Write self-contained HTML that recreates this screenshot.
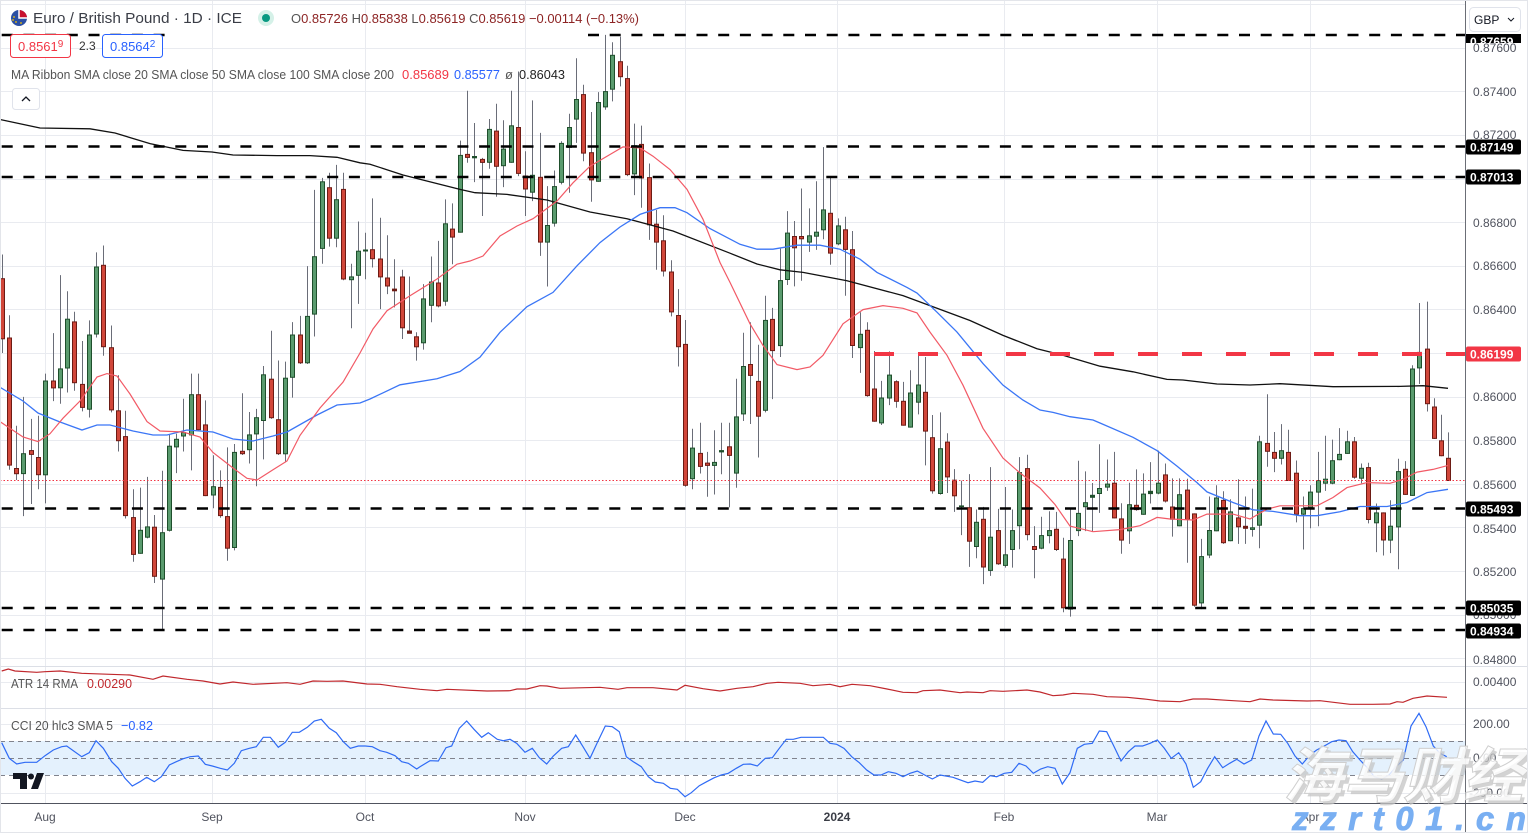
<!DOCTYPE html>
<html><head><meta charset="utf-8">
<style>
html,body{margin:0;padding:0;background:#fff;}
svg{display:block;}
</style></head>
<body>
<svg xmlns="http://www.w3.org/2000/svg" width="1528" height="833" viewBox="0 0 1528 833" font-family="'Liberation Sans', sans-serif">
<defs>
  <clipPath id="mp"><rect x="0" y="0" width="1465" height="666"/></clipPath>
  <clipPath id="tb"><rect x="1466" y="34" width="55" height="9"/></clipPath>
</defs>
<rect width="1528" height="833" fill="#fff"/>

<!-- grid -->
<g stroke="#e9ebf0" stroke-width="1">
  <path d="M0 4.5H1465M0 48.5H1465M0 91.5H1465M0 135.5H1465M0 179.5H1465M0 222.5H1465M0 266.5H1465M0 309.5H1465M0 353.5H1465M0 397.5H1465M0 440.5H1465M0 484.5H1465M0 527.5H1465M0 571.5H1465M0 615.5H1465M0 658.5H1465"/>
  <path d="M0 682.5H1465M0 724.5H1465M0 793.5H1465"/>
  <path d="M45.5 0V803M212.5 0V803M365.5 0V803M525.5 0V803M685.5 0V803M837.5 0V803M1004.5 0V803M1157.5 0V803M1310.5 0V803"/>
</g>
<g stroke="#dcdfe6" stroke-width="1">
  <path d="M0 666.5H1528M0 708.5H1528"/>
</g>

<!-- CCI band -->
<rect x="0" y="741" width="1465" height="34" fill="#e4f1fd"/>
<g stroke="#80838d" stroke-width="1" stroke-dasharray="5 4">
  <path d="M0 741.5H1465M0 758.5H1465M0 775.5H1465"/>
</g>

<g clip-path="url(#mp)">
  <g id="cd"></g>
  <!-- MAs -->
  <polyline fill="none" stroke="#111" stroke-width="1.3" points="0,119.5 40,128 90,128.8 115,133 150,143.6 183,150.4 212,152 233,155 277,155.6 310,155.6 337,157.3 360,162.8 370,164.2 403,175 460,189.4 475,192.7 507,194.4 547,200 590,212 627,218.7 673,231 730,253.2 757,264 780,269.8 803,272.4 847,280.7 903,295.6 970,320.5 1003,335.4 1037,348.7 1063,355.3 1100,366.2 1133,371.8 1167,379.4 1183,380 1217,384 1250,385 1280,383.7 1333,386.7 1400,386.4 1423,385.7 1448,388.3"/>
  <polyline fill="none" stroke="#3b76f6" stroke-width="1.3" points="0,387.3 23,401 38,413 60,422 82,430 97,425 110,425 133,431 153,435 167,435 187,430 213,432 233,439 253,441 273,436 287,432 317,415 337,405 360,403 370,399 400,384.8 437,378.8 460,371.5 480,357.2 500,332.3 527,306.7 553,292.4 577,265.8 600,242.6 620,227 640,214.4 660,207.7 675,207.7 687,212.7 710,228.6 740,244.3 757,249.2 773,249.2 797,245.2 820,245.2 840,249.2 860,259.2 877,272.4 907,287.4 917,293 937,312.2 957,332.1 983,363.6 1003,385.2 1023,400.1 1040,410 1053,412.4 1070,416.7 1093,420 1100,423 1133,437.3 1157,450.6 1177,466.1 1197,482.6 1207,491.9 1233,502.5 1253,509.8 1273,511.4 1300,515.7 1317,515.7 1340,511.8 1360,506.5 1387,506.5 1407,502.5 1427,492.6 1448,489.3"/>
  <polyline fill="none" stroke="#f25a66" stroke-width="1.2" points="0,421.6 23,437 38,441.6 50,433.7 63,418.2 80,401 97,377 107,373.6 117,376 130,394 147,421.6 160,431 183,432 200,437 213,452.5 233,468 247,478.3 257,480 273,469.7 287,461 300,435.4 320,408 343,382.2 360,353 373,329 387,310.7 410,295.8 437,279 457,264.2 470,261 483,256 500,236 517,226 533,218.7 557,201 573,182.8 590,166.2 610,154.5 623,146.9 640,147.9 653,156.2 670,169.5 687,189.4 703,219.3 720,262.5 730,282.4 750,323.8 763,345.4 777,364.6 797,369.6 810,367 823,355.3 843,323.8 863,309.6 883,305.6 903,308.3 917,312.9 930,332.1 947,355.3 963,385.2 983,428.3 1003,458.1 1020,473 1040,488 1055,504.5 1070,526.1 1093,531.7 1120,529.6 1140,525.7 1157,517.4 1170,519 1193,520 1207,514.1 1233,514.1 1250,519 1267,509.1 1280,505.8 1317,505.8 1333,497.5 1347,487.6 1367,482.6 1390,483.3 1403,479.3 1417,472.1 1433,469.4 1448,465.4"/>
  <!-- horizontal levels -->
  <g stroke="#000" stroke-width="2.6" stroke-dasharray="11 10.7">
    <path d="M1.7 35H166"/>
    <path d="M588 35H1465"/>
    <path d="M1.7 146.5H1465M1.7 177H1465M1.7 508.5H1465M1.7 608H1465M1.7 630H1465"/>
  </g>
  <path d="M874 354H1465" stroke="#f23645" stroke-width="4" stroke-dasharray="20 24"/>
  <path d="M0 480.5H1465" stroke="#f23645" stroke-width="1" stroke-dasharray="1.5 2"/>
</g>

<!-- ATR -->
<polyline fill="none" stroke="#c0282d" stroke-width="1.2" points="1.7,671 8.3,669 15,671 36.7,672.3 45,671.7 60,671 81.7,673.3 110,674.3 130,675 153,679.3 163,676 187,679.3 203,681 220,684 233,682 253,684.3 287,682.7 300,684.3 313,681 327,681.3 343,681 367,684 380,684.3 397,686.7 420,689.3 437,690.7 447,689.3 487,691 510,690.7 517,689 527,689 540,685.7 547,686 560,688.3 600,687.3 618,689.3 627,687.7 653,687.7 677,690 685,685.3 703,688.7 720,691 737,688.3 753,686.7 767,683.3 778,682.3 800,683.3 813,685.7 830,684.3 840,686.7 852,684.3 870,685.7 887,689 903,692.3 917,692.7 923,690.7 940,690 960,692.7 967,692 983,692.7 990,690.7 1003,691.3 1027,690 1040,692 1053,695.7 1063,695 1073,693.3 1093,694.3 1107,696.7 1127,697.3 1147,699.3 1160,701 1180,701.7 1193,699 1207,699 1227,700.3 1250,701.7 1260,699 1273,700 1307,701 1320,700.7 1350,704.3 1373,704.3 1390,704 1397,701.7 1403,702.3 1413,698.3 1427,696 1447,697.3"/>

<!-- CCI -->
<polyline fill="none" stroke="#2f6bf5" stroke-width="1.2" points="1.7,742.7 9.3,758.3 16.7,764 25,762.3 36.7,762.3 45,755.7 53.3,750 61.7,746.7 66.7,746 81.7,756.7 89.3,752.7 96,740.7 103.3,748.3 111.7,761.7 118.3,768.3 125,778.3 132.3,786 140,781.7 146.7,777.3 154.3,781.7 161.3,776.7 169.3,765 176.3,761.7 183.3,758.7 190.3,756.7 198.3,756 205.3,764.3 212.3,766 220.3,768.3 227.3,770 234.3,763.3 241.3,750.7 249.3,748.3 256.3,746.7 263.3,737.3 270.3,737.3 278.3,747.3 285.3,742.3 292.3,732.3 299.3,732.3 307.3,727.3 314.3,721 321.3,719.3 329.3,728.3 336.3,732.7 343.3,741.7 350.3,748.3 358.3,746 365.3,746 372.3,746.7 380,750.7 386.7,752.3 395,755.7 401.7,761.7 408.3,763.3 416.7,769 420,766.7 430,760.7 438.3,761 446,747.7 451.7,746 459.3,728.3 466.7,721 474,729.3 481.7,737.3 488.3,732.7 497.3,739.3 503.3,740.7 510,739.3 516.7,743.3 525,752.3 532.3,748.3 539.3,757.7 546.7,764 553.3,756 561.7,748.3 568.3,746.7 575.7,735 583,746.7 590,758.3 597.7,741.7 605.3,726 612.3,726.7 619.3,731.7 626.3,756.7 633.3,761.7 641.3,766.7 648.3,776.7 655.3,782 663.3,783.3 670.3,788.3 677.3,789.3 685,796.7 691.3,792.7 699.3,785.7 706.7,781.7 714.3,777.7 721.3,775 728.3,773.3 736.3,768.3 743.3,764.3 750.3,764 757.3,766 765.3,758.3 772.3,757.7 779.3,748.3 786.3,739.3 793.3,739.3 801,737.3 808.3,737.3 815.7,737.3 823.3,737.3 830,743.3 836.7,744.3 844,748.3 851.7,756.7 859.3,762.7 866.7,770 874,775 881,775 888.3,771.7 896,773.3 903,776.7 910,773.3 917.3,771 924.7,775 932.3,779 940,775 953,777.3 968,782.7 975,781 982.7,782.3 990,775.7 996.7,776.7 1004.3,773.3 1011.7,772.3 1019,763.3 1026,766 1033.3,773.3 1040.7,769 1047.7,766.7 1055,768.3 1062.3,784 1070,772.7 1077.3,748.3 1084.3,744.3 1092.3,743.3 1099.3,731 1106.7,731.7 1113.3,745 1121,761 1128.3,751.7 1135,746 1142.7,746 1150,743.3 1157.3,740 1164.3,748.3 1171.3,758.3 1178.7,752.7 1186,764 1193.3,787.3 1200.7,781.7 1207.7,768.3 1214.7,756.7 1222.7,767.7 1229.7,763.3 1236.7,759.3 1244,764 1251.7,760 1259,736 1266,721 1273.3,734 1280.7,734.3 1287.7,743.3 1295,756 1302.3,764 1310,755 1316.7,750 1324.3,746 1331.7,741.7 1339,740 1346,740.7 1352.7,751.7 1360,760 1367.3,767.7 1374.3,776.7 1381.7,779.3 1389,775 1396,766.7 1403.3,760 1411,726 1419,713.3 1426,726.7 1433.3,746 1440,753.3 1446.7,756.7"/>

<!-- axes -->
<rect x="1466" y="0" width="62" height="833" fill="#fff"/>
<path d="M1465.5 0V833" stroke="#6b6e76" stroke-width="1"/>
<path d="M0 803.5H1528" stroke="#50535e" stroke-width="1"/>
<path d="M1466 666.5H1528M1466 708.5H1528" stroke="#dcdfe6"/>

<g font-size="12" fill="#50535e">
  <text x="1473" y="52">0.87600</text>
  <text x="1473" y="96">0.87400</text>
  <text x="1473" y="139">0.87200</text>
  <text x="1473" y="227">0.86800</text>
  <text x="1473" y="270">0.86600</text>
  <text x="1473" y="314">0.86400</text>
  <text x="1473" y="401">0.86000</text>
  <text x="1473" y="445">0.85800</text>
  <text x="1473" y="489">0.85600</text>
  <text x="1473" y="533">0.85400</text>
  <text x="1473" y="576">0.85200</text>
  <text x="1473" y="619">0.85000</text>
  <text x="1473" y="664">0.84800</text>
  <text x="1473" y="686">0.00400</text>
  <text x="1473" y="728">200.00</text>
  <text x="1473" y="762">0.00</text>
  <text x="1469" y="797">-200.00</text>
</g>

<!-- badges -->
<g font-size="12" font-weight="bold" fill="#fff">
  <rect x="1466" y="34" width="55" height="9" fill="#000"/>
  <text x="1470" y="46" clip-path="url(#tb)">0.87659</text>
  <rect x="1466" y="139.5" width="55" height="15" rx="2" fill="#000"/>
  <text x="1470" y="151.5">0.87149</text>
  <rect x="1466" y="169.5" width="55" height="15" rx="2" fill="#000"/>
  <text x="1470" y="181.5">0.87013</text>
  <rect x="1466" y="346.5" width="55" height="15" rx="2" fill="#f23645"/>
  <text x="1470" y="358.5">0.86199</text>
  <rect x="1466" y="501.5" width="55" height="15" rx="2" fill="#000"/>
  <text x="1470" y="513.5">0.85493</text>
  <rect x="1466" y="600.5" width="55" height="15" rx="2" fill="#000"/>
  <text x="1470" y="612.5">0.85035</text>
  <rect x="1466" y="623.5" width="55" height="15" rx="2" fill="#000"/>
  <text x="1470" y="635.5">0.84934</text>
</g>

<!-- GBP button -->
<rect x="1469.5" y="7.5" width="51" height="24" rx="4" fill="#fff" stroke="#e0e3eb"/>
<text x="1474" y="24" font-size="12" fill="#131722">GBP</text>
<path d="M1508 18l3 3 3-3" fill="none" stroke="#131722" stroke-width="1"/>

<!-- time labels -->
<g font-size="12" fill="#50535e" text-anchor="middle">
  <text x="45" y="821">Aug</text>
  <text x="212" y="821">Sep</text>
  <text x="365" y="821">Oct</text>
  <text x="525" y="821">Nov</text>
  <text x="685" y="821">Dec</text>
  <text x="837" y="821" font-weight="bold" fill="#3a3d46">2024</text>
  <text x="1004" y="821">Feb</text>
  <text x="1157" y="821">Mar</text>
  <text x="1310" y="821">Apr</text>
</g>

<!-- header legend -->
<circle cx="19" cy="18" r="8" fill="#2b4fa3"/>
<path d="M19 10a8 8 0 0 1 8 8h-8z" fill="#c8102e"/>
<path d="M19 10v8h8" fill="none" stroke="#fff" stroke-width="1.5"/>
<g fill="#f5c400"><circle cx="14" cy="17" r="0.9"/><circle cx="16" cy="22" r="0.9"/><circle cx="21" cy="23" r="0.9"/><circle cx="13" cy="20" r="0.9"/></g>
<text x="33" y="23" font-size="15" fill="#3a3d46" textLength="209" lengthAdjust="spacingAndGlyphs">Euro / British Pound · 1D · ICE</text>
<circle cx="266" cy="18" r="8" fill="#d5f1e8"/>
<circle cx="266" cy="18" r="4" fill="#089981"/>
<text x="291" y="23" font-size="13" textLength="348" lengthAdjust="spacingAndGlyphs"><tspan fill="#555">O</tspan><tspan fill="#8d2424">0.85726 </tspan><tspan fill="#555">H</tspan><tspan fill="#8d2424">0.85838 </tspan><tspan fill="#555">L</tspan><tspan fill="#8d2424">0.85619 </tspan><tspan fill="#555">C</tspan><tspan fill="#8d2424">0.85619 −0.00114 (−0.13%)</tspan></text>

<rect x="10.5" y="34.5" width="60" height="23" rx="3" fill="#fff" stroke="#f23645"/>
<text x="18" y="51" font-size="13" fill="#f23645">0.8561<tspan font-size="10" dy="-4">9</tspan></text>
<text x="79" y="50" font-size="12" fill="#333">2.3</text>
<rect x="102.5" y="34.5" width="60" height="23" rx="3" fill="#fff" stroke="#2962ff"/>
<text x="110" y="51" font-size="13" fill="#2962ff">0.8564<tspan font-size="10" dy="-4">2</tspan></text>

<text x="11" y="79" font-size="13" fill="#555" textLength="383" lengthAdjust="spacingAndGlyphs">MA Ribbon SMA close 20 SMA close 50 SMA close 100 SMA close 200</text>
<text x="402" y="79" font-size="13" fill="#f23645" textLength="47" lengthAdjust="spacingAndGlyphs">0.85689</text>
<text x="454" y="79" font-size="13" fill="#2962ff" textLength="46" lengthAdjust="spacingAndGlyphs">0.85577</text>
<text x="505" y="79" font-size="13" fill="#555">ø</text>
<text x="519" y="79" font-size="13" fill="#222" textLength="46" lengthAdjust="spacingAndGlyphs">0.86043</text>

<rect x="12.5" y="88.5" width="27" height="21" rx="3" fill="#fff" stroke="#e0e3eb"/>
<path d="M22 101l4-4 4 4" fill="none" stroke="#131722" stroke-width="1.3"/>

<text x="11" y="688" font-size="13" fill="#555" textLength="67" lengthAdjust="spacingAndGlyphs">ATR 14 RMA</text>
<text x="87" y="688" font-size="13" fill="#c0282d" textLength="45" lengthAdjust="spacingAndGlyphs">0.00290</text>
<text x="11" y="730" font-size="13" fill="#555" textLength="102" lengthAdjust="spacingAndGlyphs">CCI 20 hlc3 SMA 5</text>
<text x="121" y="730" font-size="13" fill="#2962ff" textLength="32" lengthAdjust="spacingAndGlyphs">−0.82</text>

<!-- TV logo -->
<path d="M13 773H27V789H20V779H13Z" fill="#131722"/>
<circle cx="31" cy="776.5" r="3" fill="#131722"/>
<path d="M37 773H44L38 789H31Z" fill="#131722"/>

<!-- watermark -->
<text x="1286" y="800" font-size="60" font-style="italic" font-weight="bold" fill="#c4c4c4" fill-opacity="0.75" font-family="'Liberation Sans','Noto Sans CJK SC',sans-serif">海马财经</text>
<text x="1283" y="797" font-size="60" font-style="italic" font-weight="bold" fill="#fff" fill-opacity="0.82" stroke="#cfcfcf" stroke-width="1" font-family="'Liberation Sans','Noto Sans CJK SC',sans-serif">海马财经</text>
<text x="1292" y="830" font-size="33" font-style="italic" font-weight="bold" fill="#79aff2" stroke="#79aff2" stroke-width="0.8" textLength="234" lengthAdjust="spacing">zzrt01.cn</text>

<!-- outer border -->
<rect x="0.5" y="0.5" width="1527" height="832" fill="none" stroke="#e3e5ea"/>
</svg>

<script>
(function(){
var Z8=[[8,453,522,700,740,0],[29,630,695,1068,1080,0],[49,952,1075,1093,1110,0],[70,868,1032,1093,1215,1],[94,932,1023,1037,1180,0],[115,923,1043,1096,1137,0],[136,800,820,1096,1178,1],[157,682,820,843,880,0],[181,513,785,843,888,1],[202,560,640,785,855,1],[223,620,648,828,850,0],[247,705,830,900,910,0],[268,645,686,905,928,1],[289,447,488,686,695,1],[310,427,483,723,748,0],[334,660,723,907,913,0],[355,805,907,997,1027,0],[376,908,982,1215,1222,0],[397,1137,1218,1328,1348,0],[421,1132,1255,1325,1325,1],[442,1101,1245,1278,1280,1],[463,1212,1246,1392,1410,0],[484,1083,1262,1400,1547,1],[508,978,1010,1258,1260,1],[529,975,990,1015,1090,1],[550,873,970,983,1027,1],[571,800,860,980,1082,1],[595,800,860,965,965,0],[616,878,948,1157,1157,0],[637,1038,1128,1155,1192,1],[661,1082,1130,1215,1220,0],[682,1015,1215,1310,1345,0],[703,1005,1028,1308,1315,1],[724,857,1025,1035,1037,0],[748,912,977,1023,1062,1],[769,903,927,977,1128,1],[790,778,802,938,1050,1],[811,675,815,930,932,0],[835,762,933,1035,1037,0],[856,765,812,1035,1058,1],[877,650,686,812,870,1],[898,632,686,770,772,0],[922,487,632,770,772,1],[943,265,458,628,692,1],[964,230,240,437,480,1],[988,215,257,407,430,0],[1009,192,292,407,432,1],[1030,215,262,526,528,0],[1051,480,517,528,668,1],[1075,357,442,515,597,1],[1096,390,440,443,525,1]];
var Z9=[[38,507,660,690,715,0],[58,565,688,745,840,0],[82,618,745,772,795,0],[103,690,780,785,835,0],[124,722,742,898,930,0],[145,742,906,913,913,0],[169,910,922,955,995,0],[190,765,808,943,962,1],[211,682,757,830,880,1],[235,635,760,832,835,0],[256,510,582,818,830,1],[277,522,598,625,705,0],[298,333,376,610,610,1],[322,183,373,385,400,0],[343,280,381,385,458,1],[364,385,388,400,560,0],[385,268,298,400,418,1],[409,222,303,412,502,0],[430,272,357,410,473,1],[451,183,287,400,400,1],[472,125,292,433,440,0],[496,365,438,480,560,0],[517,212,436,490,515,1],[538,310,442,640,680,0],[562,470,587,640,772,1],[583,423,470,583,592,1],[604,335,340,460,465,1],[625,252,292,355,490,1],[649,85,208,270,340,1],[670,165,193,372,395,0],[691,247,368,453,517,0],[712,187,217,457,457,1],[736,15,184,233,240,1],[757,37,75,180,215,1],[778,20,94,142,170,0],[799,108,145,437,440,0],[823,282,347,435,497,1],[844,288,343,447,535,0],[865,402,443,588,632,0],[889,542,583,640,722,0],[910,558,633,727,742,0],[931,693,727,850,862,0],[952,780,858,955,1013,0],[976,873,945,1372,1375,0],[997,1200,1257,1352,1382,1],[1018,1182,1273,1315,1335,0],[1039,1270,1302,1312,1405,0],[1063,1205,1300,1312,1398,1],[1084,1182,1266,1270,1337,1],[1105,1182,1253,1282,1437,0],[1126,1050,1163,1335,1378,1]];
var Z10=[[40,582,682,828,848,1],[61,550,676,712,857,0],[82,618,727,835,958,0],[106,470,543,817,822,1],[127,507,540,637,782,0],[148,328,423,622,655,1],[169,215,280,423,438,1],[193,245,290,327,442,0],[214,147,290,300,425,0],[235,207,288,310,338,1],[256,125,277,292,332,1],[280,22,210,273,300,1],[301,110,220,343,377,0],[322,237,258,315,318,1],[343,232,270,332,470,0],[367,275,330,622,658,0],[388,520,585,628,703,1],[409,550,573,773,775,0],[433,637,750,850,850,0],[454,727,777,855,860,1],[475,638,708,780,800,1],[496,725,728,790,808,0],[520,730,787,862,862,0],[541,695,762,868,868,1],[562,642,738,793,828,1],[583,655,760,880,982,0],[607,830,897,1060,1067,0],[628,822,930,1068,1070,1],[649,885,910,1018,1065,0],[670,993,1025,1075,1122,0],[694,1028,1104,1106,1192,1],[715,1008,1108,1212,1288,0],[736,1115,1152,1228,1262,1],[760,1107,1143,1290,1340,0],[781,987,1197,1300,1315,1],[802,1113,1177,1280,1282,0],[823,1047,1250,1285,1290,1],[847,1115,1177,1237,1290,1],[868,957,1002,1165,1235,1],[889,950,990,1192,1208,0],[910,1165,1225,1237,1322,0],[934,1137,1192,1233,1235,1],[955,1120,1177,1195,1217,1],[976,1122,1173,1237,1240,0],[997,1200,1263,1413,1425,0],[1021,1110,1207,1417,1438,1],[1042,968,1125,1180,1195,1],[1063,1000,1093,1108,1180,1],[1087,1035,1072,1078,1180,1],[1108,918,1050,1068,1125,1],[1129,960,1033,1045,1055,1]];
var Z11=[[18,510,583,595,605,1],[40,487,580,688,688,0],[63,642,688,755,795,0],[85,580,645,727,765,1],[106,540,647,663,665,0],[127,552,613,677,677,1],[151,518,606,613,643,1],[172,483,580,613,615,1],[193,522,555,637,640,0],[214,567,652,692,743,0],[238,567,615,712,712,1],[259,568,601,693,822,0],[280,673,673,952,955,0],[304,750,802,945,962,1],[325,622,723,800,808,1],[346,588,625,727,727,1],[367,606,632,763,765,0],[391,630,667,757,757,1],[412,570,685,715,765,0],[433,622,712,718,765,0],[454,598,715,723,743,1],[478,438,455,710,778,1],[499,313,460,487,532,0],[520,427,487,508,548,0],[541,403,482,508,525,1],[565,420,487,575,575,0],[586,513,550,677,700,0],[607,622,657,677,782,1],[628,588,607,657,718,1],[652,487,572,610,712,1],[673,438,568,583,605,1],[694,450,512,583,585,1],[718,415,493,512,512,1],[739,423,455,493,493,1],[760,442,455,565,568,0],[781,522,535,568,582,1],[805,520,533,693,703,0],[826,643,670,703,790,1],[847,670,670,755,800,0],[868,633,710,755,793,1],[892,508,545,715,842,1],[913,515,538,617,617,0],[934,225,235,620,620,1],[955,37,185,235,282,1],[979,33,175,343,365,0],[1000,325,350,448,448,0],[1021,375,452,500,500,0],[1045,428,505,575,575,0]];
var zs=[{d:Z8,xo:0,a:98.95,b:0.3433},{d:Z9,xo:360,a:29.92,b:0.3323},{d:Z10,xo:730,a:139.8,b:0.3316},{d:Z11,xo:1100,a:290.73,b:0.3309}];
var C={};
zs.forEach(function(z){z.d.forEach(function(r){var x=z.xo+r[0]/3;var i=Math.round((x-1.68)/7.27);C[i]=[z.a+z.b*r[1],z.a+z.b*r[2],z.a+z.b*r[3],z.a+z.b*r[4],r[5]];});});
var s='';
Object.keys(C).forEach(function(k){var i=+k;var c=C[k];var cx=Math.round(1.68+7.27*i)+0.5;
var hi=c[0],t=Math.min(c[1],c[2]),b=Math.max(c[1],c[2]),lo=c[3],g=c[4];
var fill=g?'#5a9b6e':'#d1473a',st=g?'#1f4f2c':'#6d1b14';
s+='<line x1="'+cx+'" x2="'+cx+'" y1="'+hi.toFixed(1)+'" y2="'+lo.toFixed(1)+'" stroke="#6a6d78" stroke-width="1"/>';
var h=b-t;
if(h<2.5){s+='<rect x="'+(cx-2.5)+'" y="'+(t-0.5).toFixed(1)+'" width="5" height="'+Math.max(h+1,1.6).toFixed(1)+'" fill="'+st+'"/>';}
else{s+='<rect x="'+(cx-2)+'" y="'+(t+0.5).toFixed(1)+'" width="4" height="'+(h-1).toFixed(1)+'" fill="'+fill+'" stroke="'+st+'" stroke-width="1"/>';}
});
document.getElementById('cd').innerHTML=s;
})();
</script>
</body></html>
